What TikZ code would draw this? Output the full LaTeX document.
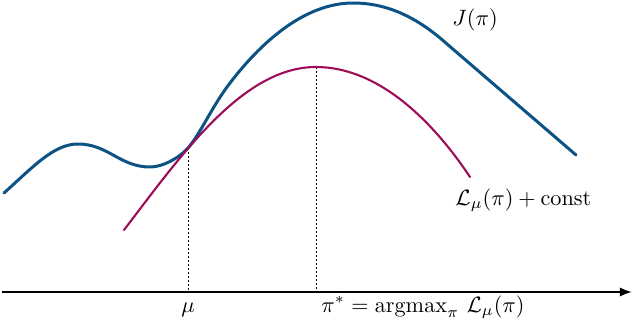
\documentclass[tikz,border=0pt]{standalone}
\usetikzlibrary{arrows.meta}
\definecolor{jblue}{RGB}{12,82,132}
\definecolor{lred}{RGB}{158,14,88}
\tikzset{
  jcurve/.style={draw=jblue, line width=1.35pt, line cap=round, line join=round},
  lcurve/.style={draw=lred, line width=0.95pt, line cap=round},
  guide/.style={draw=black, line width=0.45pt, dash pattern=on 0.9pt off 0.9pt},
  axisline/.style={draw=black, line width=0.9pt, -{Latex[length=5.5pt,width=4.2pt]}},
  lbl/.style={inner sep=0pt, anchor=base west}
}
\begin{document}
\begin{tikzpicture}[x=0.45pt, y=-0.45pt]
\useasboundingbox (0,0) rectangle (634,326);
% key points
\coordinate (tan) at (188,148);
\coordinate (peak) at (316,67);
\coordinate (jtop) at (353,3);
\coordinate (axL) at (2,292);
\coordinate (axR) at (632,292);
\coordinate (footmu) at (188,292);
\coordinate (footpi) at (316,292);
% guides
\draw[guide] (tan) -- (footmu);
\draw[guide] (peak) -- (footpi);
% axis
\draw[axisline] (axL) -- (axR);
% J curve
\draw[jcurve] (4,193) .. controls (34,166) and (54,144) .. (78,144)
  .. controls (108,144) and (120,167) .. (150,167)
  .. controls (162,167) and (178,159) .. (tan)
  .. controls (200,134.5) and (212,106.4) .. (230,83)
  .. controls (248,59.6) and (295,3) .. (jtop)
  .. controls (388,3) and (418,18) .. (447,44)
  -- (576,155);
% L curve
\draw[lcurve] (124,230) .. controls (182,154) and (243,67) .. (peak)
  .. controls (376,67) and (430,117) .. (470,177);
% labels
\node[lbl] (jlab) at (452,26) {$J(\pi)$};
\node[lbl] (llab) at (455,205) {$\mathcal{L}_\mu(\pi)+\mathrm{const}$};
\node[inner sep=0pt, anchor=base] (mulab) at (188,312) {$\mu$};
\node[lbl] (pilab) at (321,312) {$\pi^* = \mathrm{argmax}_\pi\ \mathcal{L}_\mu(\pi)$};
\end{tikzpicture}
\end{document}
